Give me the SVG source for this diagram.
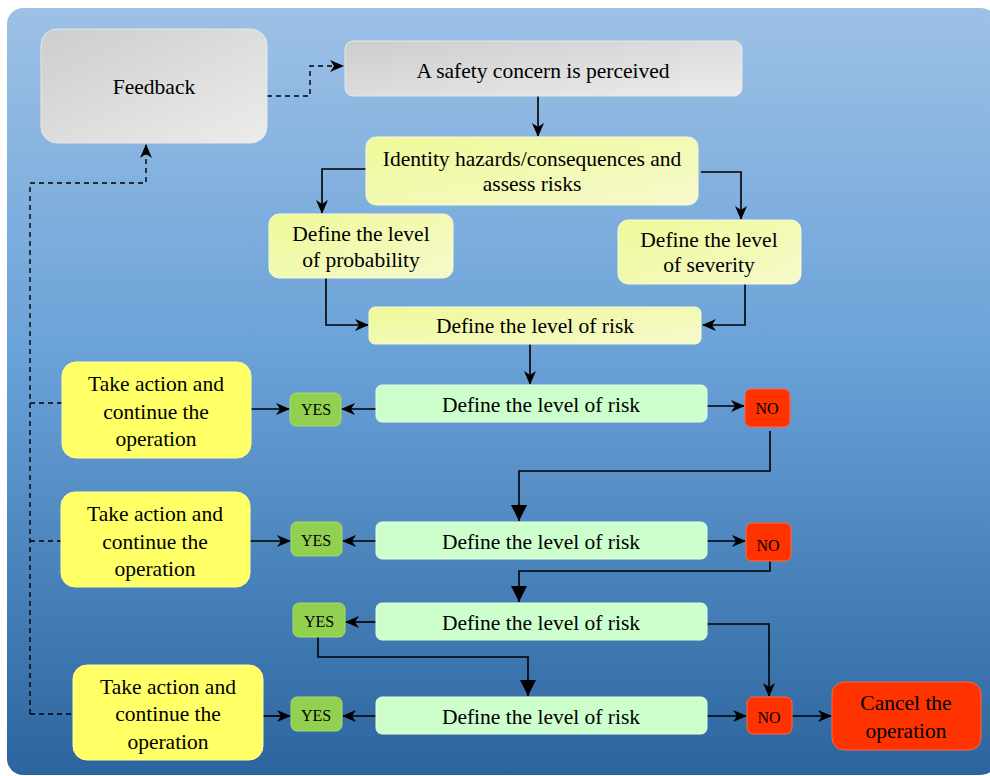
<svg xmlns="http://www.w3.org/2000/svg" width="990" height="776" viewBox="0 0 990 776">
<defs>
<linearGradient id="bg" x1="0" y1="0" x2="0" y2="1">
<stop offset="0" stop-color="#9dc1e6"/>
<stop offset="0.45" stop-color="#6aa2d8"/>
<stop offset="1" stop-color="#2c649f"/>
</linearGradient>
<linearGradient id="gray" x1="0" y1="0" x2="1" y2="1">
<stop offset="0" stop-color="#cdcdcd"/>
<stop offset="1" stop-color="#ececec"/>
</linearGradient>
<linearGradient id="yel" x1="0" y1="0" x2="1" y2="1">
<stop offset="0" stop-color="#eefa98"/>
<stop offset="1" stop-color="#f6f9cc"/>
</linearGradient>
<marker id="st" viewBox="0 0 14 12" refX="13" refY="6" markerWidth="14" markerHeight="12" markerUnits="userSpaceOnUse" orient="auto">
<path d="M0,0 L14,6 L0,12 L4,6 Z" fill="#000"/>
</marker>
<marker id="tri" viewBox="0 0 16 16" refX="16" refY="8" markerWidth="16" markerHeight="16" markerUnits="userSpaceOnUse" orient="auto">
<path d="M0,0 L16,8 L0,16 Z" fill="#000"/>
</marker>
</defs>
<style>
text{font-family:"Liberation Serif","Times New Roman",serif;font-size:21.5px;fill:#000;text-anchor:middle}
.s{font-size:16px}
.c{fill:none;stroke:#000;stroke-width:1.6}
.d{fill:none;stroke:#000;stroke-width:1.4;stroke-dasharray:5,4}
.gr{fill:url(#gray);stroke:#e8e8e8;stroke-width:1}
.yl{fill:url(#yel);stroke:#f8fad8;stroke-width:1}
.gn{fill:#ccffcc;stroke:#e3ffe3;stroke-width:1}
.ys{fill:#92d050;stroke:#a7da70;stroke-width:1}
.no{fill:#ff3300;stroke:#ff6640;stroke-width:1}
.ta{fill:#ffff66;stroke:#ffff99;stroke-width:1}
</style>
<rect x="7" y="8" width="990" height="767" rx="16" fill="url(#bg)"/>

<g id="connectors">
<path class="d" d="M267,96 H310 V66 H343" marker-end="url(#st)"/>
<path class="d" d="M30,714 V183 H146 V145" marker-end="url(#st)"/>
<path class="d" d="M30,403 H62"/>
<path class="d" d="M30,541 H61"/>
<path class="d" d="M30,714 H73"/>
<path class="c" d="M538,96 V136" marker-end="url(#st)"/>
<path class="c" d="M366,169 H322 V213" marker-end="url(#st)"/>
<path class="c" d="M701,172 H741 V219" marker-end="url(#st)"/>
<path class="c" d="M326,278 V325 H368" marker-end="url(#st)"/>
<path class="c" d="M745,284 V325 H703" marker-end="url(#st)"/>
<path class="c" d="M530,344 V384" marker-end="url(#st)"/>
<path class="c" d="M376,409 H342" marker-end="url(#st)"/>
<path class="c" d="M251,409 H289" marker-end="url(#st)"/>
<path class="c" d="M707,406 H744" marker-end="url(#st)"/>
<path class="c" d="M770,431 V471 H519 V521" marker-end="url(#tri)"/>
<path class="c" d="M376,541 H343" marker-end="url(#st)"/>
<path class="c" d="M250,541 H290" marker-end="url(#st)"/>
<path class="c" d="M707,541 H745" marker-end="url(#st)"/>
<path class="c" d="M770,561 V571 H519 V602" marker-end="url(#tri)"/>
<path class="c" d="M376,622 H346" marker-end="url(#st)"/>
<path class="c" d="M318,637 V657 H528 V696" marker-end="url(#tri)"/>
<path class="c" d="M707,624 H769 V696" marker-end="url(#st)"/>
<path class="c" d="M376,716 H343" marker-end="url(#st)"/>
<path class="c" d="M263,716 H290" marker-end="url(#st)"/>
<path class="c" d="M707,716 H746" marker-end="url(#st)"/>
<path class="c" d="M792,716 H831" marker-end="url(#st)"/>
</g>

<g id="feedback"><rect class="gr" x="41" y="29" width="226" height="114" rx="16"/><text x="154" y="94">Feedback</text></g>
<g id="concern"><rect class="gr" x="345" y="41" width="397" height="55" rx="8"/><text x="543" y="78">A safety concern is perceived</text></g>
<g id="identify"><rect class="yl" x="366" y="137" width="332" height="68" rx="10"/><text x="532" y="166">Identity hazards/consequences and</text><text x="532" y="191">assess risks</text></g>
<g id="probability"><rect class="yl" x="269" y="214" width="184" height="64" rx="10"/><text x="361" y="241">Define the level</text><text x="361" y="267">of probability</text></g>
<g id="severity"><rect class="yl" x="618" y="220" width="183" height="64" rx="10"/><text x="709" y="247">Define the level</text><text x="709" y="272">of severity</text></g>
<g id="risk0"><rect class="yl" x="369" y="307" width="332" height="37" rx="6"/><text x="535" y="333">Define the level of risk</text></g>

<g id="risk1"><rect class="gn" x="376" y="385" width="331" height="37" rx="6"/><text x="541" y="412">Define the level of risk</text></g>
<g id="risk2"><rect class="gn" x="376" y="522" width="331" height="37" rx="6"/><text x="541" y="549">Define the level of risk</text></g>
<g id="risk3"><rect class="gn" x="376" y="603" width="331" height="37" rx="6"/><text x="541" y="630">Define the level of risk</text></g>
<g id="risk4"><rect class="gn" x="376" y="697" width="331" height="37" rx="6"/><text x="541" y="724">Define the level of risk</text></g>

<g id="yes1"><rect class="ys" x="290" y="393" width="51" height="33" rx="6"/><text class="s" x="316" y="415">YES</text></g>
<g id="yes2"><rect class="ys" x="291" y="522" width="51" height="34" rx="6"/><text class="s" x="316" y="546">YES</text></g>
<g id="yes3"><rect class="ys" x="293" y="603" width="52" height="34" rx="6"/><text class="s" x="319" y="627">YES</text></g>
<g id="yes4"><rect class="ys" x="291" y="697" width="51" height="34" rx="6"/><text class="s" x="316" y="721">YES</text></g>

<g id="no1"><rect class="no" x="745" y="389" width="45" height="38" rx="6"/><text class="s" x="767" y="414">NO</text></g>
<g id="no2"><rect class="no" x="746" y="523" width="45" height="38" rx="6"/><text class="s" x="768" y="551">NO</text></g>
<g id="no4"><rect class="no" x="747" y="697" width="45" height="37" rx="6"/><text class="s" x="769" y="723">NO</text></g>

<g id="action1"><rect class="ta" x="62" y="362" width="189" height="96" rx="14"/><text x="156" y="391">Take action and</text><text x="156" y="419">continue the</text><text x="156" y="446">operation</text></g>
<g id="action2"><rect class="ta" x="61" y="492" width="189" height="95" rx="14"/><text x="155" y="521">Take action and</text><text x="155" y="549">continue the</text><text x="155" y="576">operation</text></g>
<g id="action3"><rect class="ta" x="73" y="665" width="190" height="95" rx="14"/><text x="168" y="694">Take action and</text><text x="168" y="721">continue the</text><text x="168" y="749">operation</text></g>

<g id="cancel"><rect class="no" x="832" y="682" width="149" height="68" rx="12"/><text x="906" y="710">Cancel the</text><text x="906" y="738">operation</text></g>
</svg>
